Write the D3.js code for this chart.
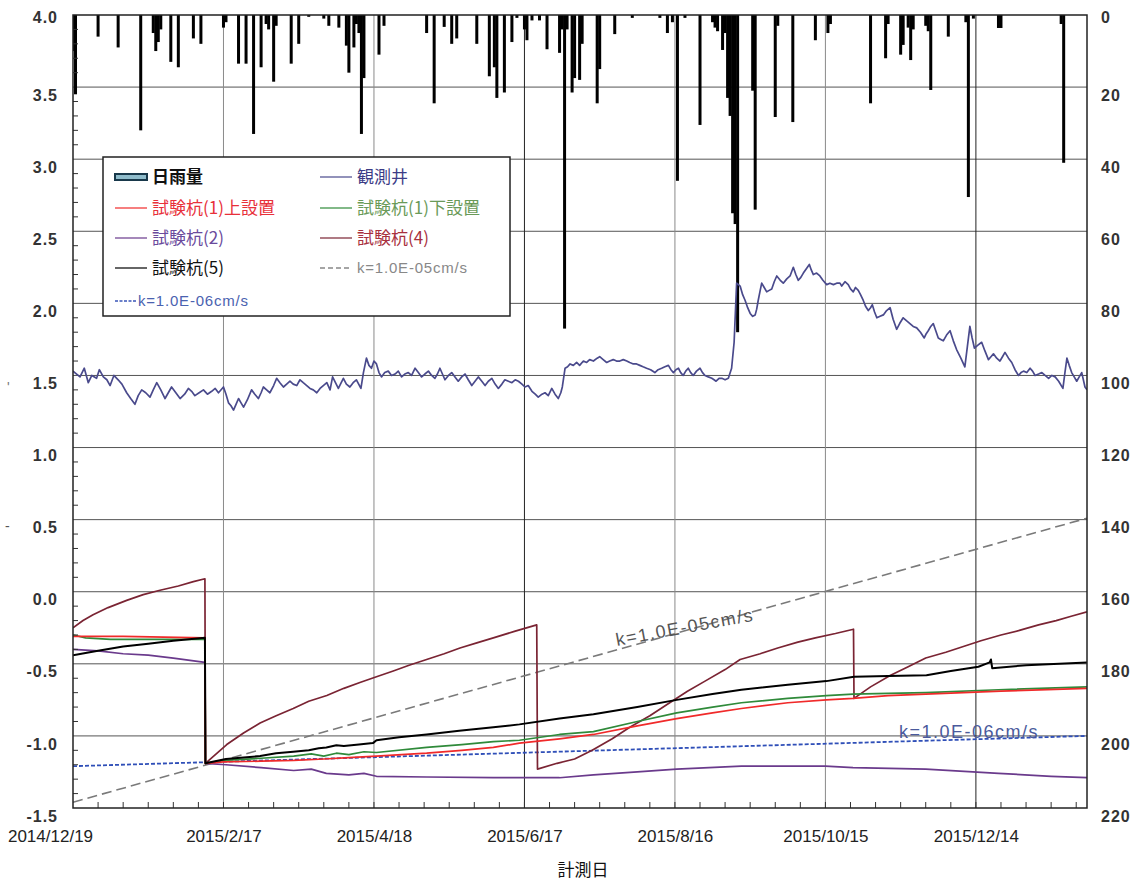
<!DOCTYPE html>
<html>
<head>
<meta charset="utf-8">
<script src="https://cdn.jsdelivr.net/npm/d3@7"></script>
<style>
  body { margin: 0; background: #fff; }
  svg { display: block; }
</style>
</head>
<body>
<main></main>
<script>
// DATA (day = days since 2014/12/19)
const xTickDays = [0, 60, 120, 180, 240, 300, 360];
const xTickLabels = ["2014/12/19", "2015/2/17", "2015/4/18", "2015/6/17", "2015/8/16", "2015/10/15", "2015/12/14"];
const yTicks = [-1.5, -1.0, -0.5, 0.0, 0.5, 1.0, 1.5, 2.0, 2.5, 3.0, 3.5, 4.0];
const rainTicks = [0, 20, 40, 60, 80, 100, 120, 140, 160, 180, 200, 220];

const rainDay = [0,1,10,18,27,32,33,34,35,39,42,48,51,60,61,66,69,72,75,77,78,80,81,87,90,94,100,102,106,109,110,112,113,114,115,116,122,124,141,144,148,151,153,161,166,168,169,172,175,177,180,181,183,186,189,194,195,196,197,199,200,202,203,209,210,216,223,234,237,239,241,244,250,255,256,257,259,260,261,262,263,264,265,271,272,280,281,287,296,301,302,318,324,325,330,331,333,334,335,340,341,342,349,356,357,359,369,370,394,395];
const rainMM = [10,22,6,9,32,5,10,7.5,4,13,14.5,6.5,8,3.5,2,13.5,13.5,33,14.5,2.5,4,18.5,3,13.5,8,0.5,1,3,3.5,8.5,16,9,2.5,5,33,17.5,11,3,5,24.5,3.3,8,6.5,8,17,14.5,23,21.5,7.5,0.8,4,7,1.5,1.5,9.5,10.5,4,87,4,21.5,17.5,18,8,24.5,15,5.3,0.8,0.8,5,2,46,0.8,30.5,2,3.5,4.5,9.7,5,23,28,55,58,88,21,54,28.3,3,29.7,7,5,2.5,24.5,12,2.5,11,8.3,3.5,12.5,4,3,4.5,20.8,6,2,50.5,1,3.6,3.6,2.5,41];

const wellDay = [0,2.8,4.5,6.1,7.5,9.4,10.5,12.1,13.5,14.8,16.3,18,19.5,21.4,23,24.7,26,27.4,29,30.7,32,33.4,35,36.7,38,39.3,41,42.7,44.5,46,47.3,48.6,50.3,52,53.6,55.3,56.7,58,60,61,62,63,64,65,66,67,68,69.5,71.2,72.5,73.9,75,75.9,77.2,78.5,80,81.2,82.5,83.9,85.2,86.5,87.8,89.2,90.5,91.8,93.2,94.5,95.8,97.2,98.5,99.8,101.2,102.5,103.5,105.8,107.8,109,110.4,111.7,113,114.8,115.8,117,118,119,120,121,122,123,124.3,125.7,127,128.4,129.7,131,132.3,133.7,135,136.4,137.7,139,140.3,141.7,143,144.3,145.3,146.3,147.3,148.3,149.7,151,152.3,153.6,155,156.3,157.6,159,160.3,161.6,163,164.3,165.6,167,168.3,169.6,171,172.2,173.6,175,176.3,177.6,179,180.2,181.5,183,184.3,185.5,187,188.2,189.5,190.9,192.2,193.5,194.5,195.1,196.2,197.2,198.2,199.5,200.8,202,203.5,204.8,206,207.5,209,210,211.4,212.8,214,215.4,216.7,218,219.4,220.8,222,223.4,224.7,226,227.3,228.7,230.3,232,233.3,234.7,236,237.4,238.4,239.4,240.4,241.4,242.3,243.3,244.3,245.3,246.3,247.3,248.6,250,251,252,253.3,254.7,255.6,256.4,257.6,258.7,260,261.3,262.6,263.6,264.6,265.3,266,267,268,269,270,271,272,272.6,273.2,274,274.6,275.6,276.6,277.6,278.6,279.6,280.6,282,283.2,284.6,285.9,287.2,288.2,289.2,290.2,291.2,292.4,293.6,294.4,295.2,296.5,297.8,299,300.5,301.8,303.2,304.5,305.8,306.5,307.8,309.1,310,311.1,312,313.1,314,315.1,316,317.1,318,318.7,319.6,320.5,321.8,323.1,324.4,325.8,327,328.4,329.6,331,332.3,333.7,335,336.4,337.9,339.4,340.2,341,342,343,344,345,346,347,348.3,349.7,351,352.3,354,355.6,356.6,357.6,358.5,359.4,360.8,362.3,363.6,365,366,367,368.3,369.6,370.6,371.6,373,374.3,375.6,377,378,379,380.3,381.6,382.6,383.6,385,386.3,387.6,389,390.3,391.6,393,394.7,395.5,396.3,397.2,398.2,399.2,400.2,401.2,402.2,403.5,404.3];
const wellLevel = [1.53,1.49,1.55,1.45,1.50,1.48,1.54,1.49,1.47,1.43,1.50,1.47,1.44,1.38,1.34,1.30,1.36,1.40,1.38,1.35,1.40,1.45,1.40,1.34,1.38,1.42,1.38,1.34,1.37,1.41,1.39,1.36,1.38,1.40,1.37,1.39,1.41,1.38,1.42,1.37,1.31,1.29,1.26,1.30,1.34,1.31,1.28,1.33,1.40,1.37,1.34,1.38,1.42,1.40,1.38,1.43,1.48,1.45,1.42,1.44,1.46,1.44,1.43,1.47,1.45,1.43,1.41,1.40,1.38,1.41,1.43,1.45,1.40,1.49,1.41,1.48,1.44,1.42,1.45,1.47,1.41,1.52,1.62,1.57,1.55,1.60,1.58,1.52,1.49,1.52,1.53,1.50,1.51,1.53,1.49,1.51,1.52,1.50,1.55,1.52,1.49,1.51,1.53,1.50,1.48,1.51,1.55,1.51,1.47,1.50,1.52,1.49,1.46,1.49,1.51,1.47,1.43,1.46,1.49,1.46,1.43,1.46,1.48,1.44,1.41,1.44,1.47,1.46,1.45,1.47,1.46,1.44,1.42,1.43,1.39,1.37,1.35,1.37,1.38,1.36,1.41,1.37,1.34,1.38,1.42,1.55,1.56,1.58,1.57,1.59,1.57,1.60,1.59,1.61,1.60,1.62,1.63,1.61,1.59,1.60,1.61,1.60,1.60,1.61,1.60,1.59,1.58,1.58,1.57,1.56,1.55,1.54,1.52,1.54,1.55,1.56,1.57,1.54,1.52,1.54,1.55,1.52,1.50,1.53,1.55,1.52,1.50,1.53,1.55,1.52,1.50,1.49,1.48,1.47,1.46,1.48,1.48,1.47,1.48,1.55,1.73,2.14,2.13,2.12,2.06,2.02,1.97,1.93,1.91,1.92,1.96,2.02,2.09,2.14,2.11,2.08,2.09,2.10,2.15,2.19,2.16,2.14,2.17,2.19,2.25,2.20,2.16,2.18,2.21,2.24,2.27,2.23,2.20,2.21,2.19,2.16,2.13,2.14,2.13,2.14,2.14,2.12,2.15,2.13,2.10,2.08,2.11,2.09,2.06,2.02,1.98,1.95,1.97,1.99,1.94,1.90,1.91,1.92,1.95,1.97,1.89,1.82,1.86,1.90,1.88,1.86,1.84,1.83,1.80,1.76,1.79,1.81,1.84,1.86,1.81,1.76,1.75,1.74,1.78,1.81,1.74,1.68,1.62,1.56,1.70,1.84,1.76,1.69,1.71,1.73,1.67,1.61,1.63,1.65,1.62,1.60,1.63,1.66,1.62,1.59,1.54,1.50,1.52,1.53,1.52,1.55,1.53,1.50,1.51,1.52,1.50,1.48,1.50,1.49,1.46,1.41,1.52,1.62,1.57,1.52,1.49,1.46,1.49,1.52,1.42,1.40];

const pile1UpDay = [0,20,52.6,52.8,60,75,88,100,110,121,141,155,167.6,178,194,207.5,225,240.7,255,266.5,285,300.4,311,325,340,370,404.3];
const pile1UpLevel = [-0.31,-0.31,-0.32,-1.19,-1.18,-1.175,-1.17,-1.16,-1.15,-1.14,-1.12,-1.10,-1.08,-1.05,-1.02,-0.99,-0.93,-0.88,-0.84,-0.81,-0.77,-0.75,-0.74,-0.72,-0.71,-0.69,-0.67];

const pile1LowDay = [0,5,15,52.6,52.8,60,75,88,95,100,105,110,116,121,141,155,167.6,178,194,207.5,225,240.7,255,266.5,285,300.4,311,325,340,369,404.3];
const pile1LowLevel = [-0.30,-0.32,-0.33,-0.33,-1.19,-1.17,-1.155,-1.14,-1.125,-1.14,-1.12,-1.13,-1.11,-1.115,-1.08,-1.06,-1.04,-1.03,-0.99,-0.97,-0.90,-0.84,-0.80,-0.77,-0.74,-0.72,-0.71,-0.705,-0.70,-0.68,-0.66];

const pile2Day = [0,10,20,30,40,52.6,52.8,61,75,88,95,101,110,116,121,141,167.6,194,207.5,225,240.7,266.5,300,311,340,369,390,404.3];
const pile2Level = [-0.40,-0.41,-0.43,-0.44,-0.46,-0.49,-1.19,-1.20,-1.22,-1.24,-1.23,-1.26,-1.27,-1.26,-1.28,-1.285,-1.29,-1.29,-1.27,-1.25,-1.23,-1.21,-1.21,-1.22,-1.23,-1.26,-1.28,-1.29];

const pile4Day = [0,4,8,14,21.4,28,34.7,42,48,52.6,52.8,61.3,68,74.6,81,87.8,94,101.2,108,114.4,121,127.7,134,141,148,154.3,161,167.6,176,184.9,185.2,193,200,207,215,222,230,237,245,252,260,266,274,281,289,296,304,311.2,311.4,318,326,333,340,348,355,362,370,377,385,392,398,404.3];
const pile4Level = [-0.25,-0.20,-0.16,-0.11,-0.06,-0.02,0.01,0.04,0.07,0.09,-1.19,-1.06,-0.98,-0.91,-0.86,-0.81,-0.76,-0.72,-0.67,-0.63,-0.59,-0.55,-0.51,-0.47,-0.43,-0.39,-0.355,-0.32,-0.275,-0.23,-1.23,-1.19,-1.16,-1.10,-1.02,-0.94,-0.86,-0.78,-0.69,-0.62,-0.54,-0.47,-0.43,-0.39,-0.35,-0.32,-0.29,-0.26,-0.74,-0.66,-0.58,-0.52,-0.46,-0.42,-0.38,-0.34,-0.30,-0.27,-0.23,-0.20,-0.17,-0.14];

const pile5Day = [0,10,20,30,40,52.6,52.8,61,68,74.6,81,87.8,94,98,101,105,108,114,119.6,121,130,141,154,167.6,178,194,207.5,225,240.7,255,266.5,285,300.4,311.4,325,340.3,350,361,365.5,366,366.5,380,404.3];
const pile5Level = [-0.44,-0.41,-0.38,-0.36,-0.34,-0.32,-1.19,-1.16,-1.15,-1.14,-1.12,-1.11,-1.10,-1.085,-1.08,-1.065,-1.07,-1.06,-1.05,-1.03,-1.01,-0.99,-0.965,-0.94,-0.92,-0.88,-0.85,-0.80,-0.75,-0.71,-0.68,-0.645,-0.62,-0.59,-0.585,-0.58,-0.55,-0.52,-0.49,-0.47,-0.53,-0.51,-0.49];

const k5Day = [0, 404.3];
const k5Level = [-1.46, 0.51];
const k6Day = [0, 404.3];
const k6Level = [-1.21, -1.00];

(function(){
  const w = 1138,
    h = 882,
    left = 73,
    right = 1087,
    top = 15,
    bottom = 808,
    font = "'Liberation Sans', Arial, sans-serif",
    jpFont = "'Noto Sans CJK JP', sans-serif";

  const x = d3.scaleLinear().domain([0, 404.3]).range([left, right]);
  const y = d3.scaleLinear().domain([-1.5, 4.0]).range([bottom, top]);
  const yRain = d3.scaleLinear().domain([0, 220]).range([top, bottom]);

  // APPEND SVG
  const svg = d3.select("main")
    .append("svg")
    .attr("width", w)
    .attr("height", h);

  svg.append("rect").attr("width", w).attr("height", h).attr("fill", "#fff");

  svg.append("clipPath").attr("id", "plot")
    .append("rect")
    .attr("x", left).attr("y", top)
    .attr("width", right - left).attr("height", bottom - top);

  // GRID
  svg.append("g")
    .selectAll("line")
    .data(yTicks.slice(1, -1))
    .join("line")
    .attr("x1", left).attr("x2", right)
    .attr("y1", d => y(d)).attr("y2", d => y(d))
    .attr("stroke", "#555")
    .attr("stroke-width", 1);

  svg.append("g")
    .selectAll("line")
    .data(xTickDays.slice(1))
    .join("line")
    .attr("x1", d => x(d)).attr("x2", d => x(d))
    .attr("y1", top).attr("y2", bottom)
    .attr("stroke", d => (d === 180 || d === 360) ? "#222" : "#8a8a8a")
    .attr("stroke-width", 1);

  const plot = svg.append("g").attr("clip-path", "url(#plot)");

  // RAIN BARS
  const rain = rainDay.map((d, i) => ({day: d, mm: rainMM[i]}));
  const barW = 3;
  plot.append("g")
    .selectAll("rect")
    .data(rain)
    .join("rect")
    .attr("x", d => x(d.day) - barW / 2)
    .attr("y", yRain(0))
    .attr("width", barW)
    .attr("height", d => yRain(d.mm) - yRain(0))
    .attr("fill", "#000");

  const line = d3.line().x(d => x(d[0])).y(d => y(d[1]));
  const pairs = (days, vals) => days.map((d, i) => [d, vals[i]]);

  // K LINES
  plot.append("path")
    .attr("d", line(pairs(k5Day, k5Level)))
    .attr("fill", "none")
    .attr("stroke", "#7a7a7a")
    .attr("stroke-width", 1.6)
    .attr("stroke-dasharray", "10,5");

  plot.append("path")
    .attr("d", line(pairs(k6Day, k6Level)))
    .attr("fill", "none")
    .attr("stroke", "#2f4fb8")
    .attr("stroke-width", 1.8)
    .attr("stroke-dasharray", "4,2");

  // TEST PILES
  const piles = [
    {days: pile2Day, vals: pile2Level, color: "#6a3a8c", width: 1.7},
    {days: pile4Day, vals: pile4Level, color: "#7a2433", width: 1.7},
    {days: pile1LowDay, vals: pile1LowLevel, color: "#2f8a3a", width: 1.7},
    {days: pile1UpDay, vals: pile1UpLevel, color: "#f02a2a", width: 1.7},
    {days: pile5Day, vals: pile5Level, color: "#000", width: 2}
  ];
  piles.forEach(p => {
    plot.append("path")
      .attr("d", line(pairs(p.days, p.vals)))
      .attr("fill", "none")
      .attr("stroke", p.color)
      .attr("stroke-width", p.width)
      .attr("stroke-linejoin", "round");
  });

  // OBSERVATION WELL
  plot.append("path")
    .attr("d", line(pairs(wellDay, wellLevel)))
    .attr("fill", "none")
    .attr("stroke", "#4a4a8c")
    .attr("stroke-width", 1.7)
    .attr("stroke-linejoin", "round");

  // LINE LABELS
  svg.append("text")
    .attr("transform", "translate(617,646) rotate(-10.5)")
    .attr("font-family", font)
    .attr("font-size", 18)
    .attr("letter-spacing", 1.5)
    .attr("fill", "#555")
    .text("k=1.0E-05cm/s");

  svg.append("text")
    .attr("x", 899).attr("y", 738)
    .attr("font-family", font)
    .attr("font-size", 18)
    .attr("letter-spacing", 1.5)
    .attr("fill", "#4a5a9c")
    .text("k=1.0E-06cm/s");

  // MINOR TICKS
  const minorY = d3.range(-14, 40).map(d => d / 10).filter(d => Math.abs(d * 2 - Math.round(d * 2)) > 0.01);
  svg.append("g")
    .selectAll("line")
    .data(minorY)
    .join("line")
    .attr("x1", left).attr("x2", left + 5)
    .attr("y1", d => y(d)).attr("y2", d => y(d))
    .attr("stroke", "#333");

  svg.append("g")
    .selectAll("line")
    .data(d3.range(10, 404, 10))
    .join("line")
    .attr("x1", d => x(d)).attr("x2", d => x(d))
    .attr("y1", bottom).attr("y2", bottom - 6)
    .attr("stroke", "#333");

  // BORDER
  svg.append("rect")
    .attr("x", left).attr("y", top)
    .attr("width", right - left).attr("height", bottom - top)
    .attr("fill", "none")
    .attr("stroke", "#222")
    .attr("stroke-width", 1.5);

  // AXES
  const yAxis = svg.append("g")
    .attr("transform", "translate(" + left + ",0)")
    .call(d3.axisLeft(y).tickValues(yTicks).tickSize(0).tickPadding(15).tickFormat(d3.format(".1f")));
  yAxis.select(".domain").remove();
  yAxis.selectAll("text")
    .attr("dy", d => d === 4 ? "0.45em" : "0.82em")
    .attr("font-family", font)
    .attr("font-size", 16)
    .attr("font-weight", "bold")
    .attr("letter-spacing", 1)
    .attr("fill", "#333")
    .text(d => d3.format(".1f")(d).replace("−", "-"));

  const rAxis = svg.append("g")
    .attr("transform", "translate(" + right + ",0)")
    .call(d3.axisRight(yRain).tickValues(rainTicks).tickSize(0).tickPadding(14));
  rAxis.select(".domain").remove();
  rAxis.selectAll("text")
    .attr("dy", d => d === 0 ? "0.45em" : "0.82em")
    .attr("font-family", font)
    .attr("font-size", 16)
    .attr("font-weight", "bold")
    .attr("letter-spacing", 1)
    .attr("fill", "#333");

  const xAxis = svg.append("g")
    .attr("transform", "translate(0," + bottom + ")")
    .call(d3.axisBottom(x).tickValues(xTickDays).tickSize(0).tickPadding(22)
      .tickFormat((d, i) => xTickLabels[i]));
  xAxis.select(".domain").remove();
  xAxis.selectAll("text")
    .attr("dx", (d, i) => i === 0 ? -23 : 0)
    .attr("font-family", font)
    .attr("font-size", 17)
    .attr("fill", "#222");

  svg.append("text")
    .attr("x", 583).attr("y", 876)
    .attr("text-anchor", "middle")
    .attr("font-family", jpFont)
    .attr("font-size", 17)
    .attr("fill", "#111")
    .text("計測日");

  svg.append("text").attr("x", 5).attr("y", 531).attr("font-family", font).attr("font-size", 14).attr("fill", "#555").text("-");
  svg.append("text").attr("x", 7).attr("y", 392).attr("font-family", font).attr("font-size", 14).attr("fill", "#777").text("'");

  // LEGEND
  const legend = svg.append("g");
  legend.append("rect")
    .attr("x", 103).attr("y", 157)
    .attr("width", 407).attr("height", 159)
    .attr("fill", "#fff")
    .attr("stroke", "#222")
    .attr("stroke-width", 1.5);

  const legendItems = [
    {label: "日雨量", color: "#111", type: "rain", col: 0, row: 0},
    {label: "観測井", color: "#3c3c86", type: "line", stroke: "#4a4a8c", col: 1, row: 0},
    {label: "試験杭(1)上設置", color: "#e8303a", type: "line", stroke: "#f02a2a", col: 0, row: 1},
    {label: "試験杭(1)下設置", color: "#6a9a58", type: "line", stroke: "#2f8a3a", col: 1, row: 1},
    {label: "試験杭(2)", color: "#6a4a9c", type: "line", stroke: "#6a3a8c", col: 0, row: 2},
    {label: "試験杭(4)", color: "#a8303e", type: "line", stroke: "#7a2433", col: 1, row: 2},
    {label: "試験杭(5)", color: "#111", type: "line", stroke: "#000", col: 0, row: 3},
    {label: "k=1.0E-05cm/s", color: "#888", type: "dash", stroke: "#888", col: 1, row: 3},
    {label: "k=1.0E-06cm/s", color: "#4a62b0", type: "dot", stroke: "#3a56b8", col: 0, row: 4}
  ];
  const rowY = [177, 208, 238, 268, 301];
  const colX = [115, 320];

  legendItems.forEach(it => {
    const lx = colX[it.col], ly = rowY[it.row];
    const isK = it.type === "dash" || it.type === "dot";
    if (it.type === "rain") {
      legend.append("rect")
        .attr("x", lx).attr("y", ly - 3)
        .attr("width", 32).attr("height", 6)
        .attr("fill", "#8fbccb")
        .attr("stroke", "#18384a")
        .attr("stroke-width", 2);
    } else {
      legend.append("line")
        .attr("x1", lx).attr("x2", it.type === "dot" ? lx + 22 : lx + 32)
        .attr("y1", ly).attr("y2", ly)
        .attr("stroke", it.stroke)
        .attr("stroke-width", isK ? 1.4 : 1.2)
        .attr("stroke-dasharray", it.type === "dash" ? "5,3" : it.type === "dot" ? "3,1.5" : null);
    }
    legend.append("text")
      .attr("x", it.type === "dot" ? lx + 23 : lx + 37)
      .attr("y", ly)
      .attr("dy", "0.36em")
      .attr("font-family", isK ? font : jpFont)
      .attr("font-size", isK ? 15 : 17)
      .attr("letter-spacing", isK ? 0.8 : 0)
      .attr("font-weight", it.type === "rain" ? "bold" : "normal")
      .attr("fill", it.color)
      .text(it.label);
  });
})();
</script>
</body>
</html>
